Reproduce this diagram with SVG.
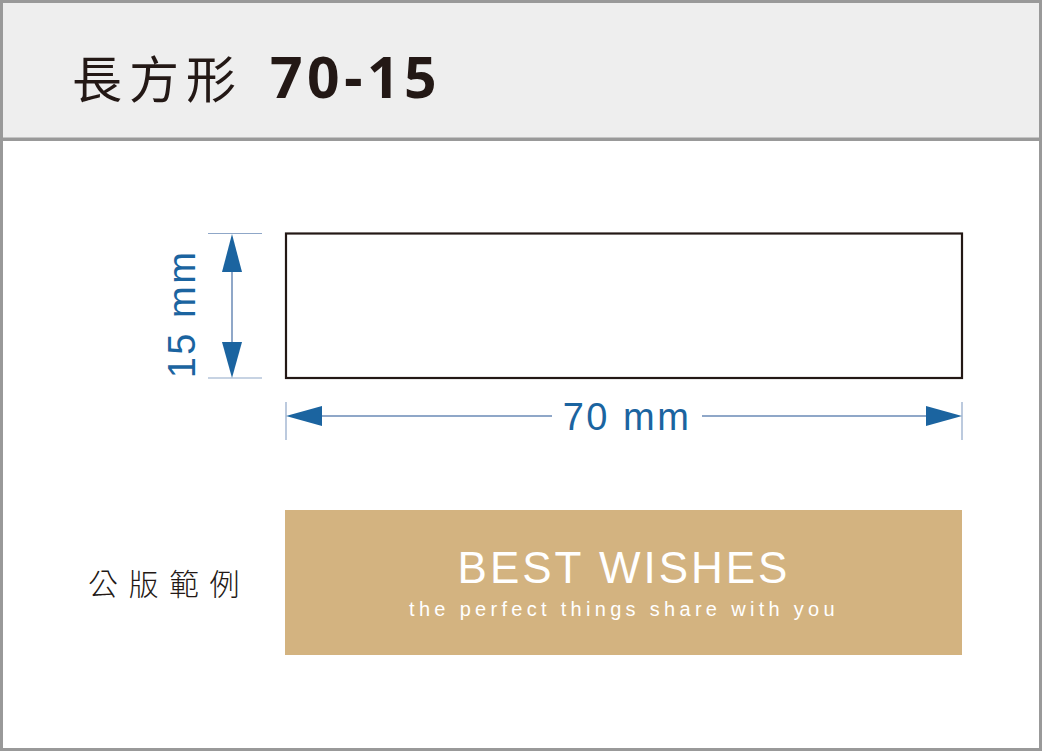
<svg xmlns="http://www.w3.org/2000/svg" width="1042" height="751" viewBox="0 0 1042 751">
<style>
.dim{fill:#1b64a0;font-family:"Liberation Sans",Arial,sans-serif;font-size:38px;letter-spacing:2.5px}
.ext{stroke:#8fa7c8;stroke-width:1.2}
.dl{stroke:#8fa7c8;stroke-width:2}
.ah{fill:#1b64a0}
</style>
<rect x="0" y="0" width="1042" height="751" fill="#ffffff"/>
<g id="header">
<rect x="1.5" y="1.5" width="1039" height="138" fill="#eeeeee" stroke="#999999" stroke-width="3"/>
<text x="72" y="98" font-family="Noto Sans CJK TC,Noto Sans CJK SC,sans-serif" font-size="50" fill="#231815" letter-spacing="7">長方形</text>
<text x="270" y="98" font-weight="bold" font-family="Noto Sans,Noto Sans CJK TC,sans-serif" font-size="57" fill="#231815" letter-spacing="4.5">70-15</text>
</g>
<rect x="1.5" y="139" width="1039" height="610.5" fill="none" stroke="#999999" stroke-width="3"/>
<g id="shape">
<rect x="286" y="233.5" width="676" height="144.5" fill="#ffffff" stroke="#231815" stroke-width="2.2"/>
</g>
<g id="connectors">
<line class="ext" x1="208" y1="233.5" x2="262" y2="233.5"/>
<line class="ext" x1="208" y1="378" x2="262" y2="378"/>
<line class="dl" x1="232" y1="270" x2="232" y2="345"/>
<polygon class="ah" points="232,234 222,272 242,272"/>
<polygon class="ah" points="232,378 222,342 242,342"/>
<line class="ext" x1="286" y1="402" x2="286" y2="440"/>
<line class="ext" x1="962" y1="402" x2="962" y2="440"/>
<line class="dl" x1="320" y1="416" x2="552" y2="416"/>
<line class="dl" x1="702" y1="416" x2="928" y2="416"/>
<polygon class="ah" points="286,416 322,406 322,426"/>
<polygon class="ah" points="962,416 926,406 926,426"/>
</g>
<g id="labels">
<text class="dim" x="627" y="430" text-anchor="middle">70 mm</text>
<text class="dim" transform="translate(195,314) rotate(-90)" text-anchor="middle">15 mm</text>
</g>
<g id="sample-label">
<text x="88" y="595" font-family="Noto Sans CJK TC,Noto Sans CJK SC,sans-serif" font-size="30" font-weight="300" fill="#231815" letter-spacing="10.5">公版範例</text>
</g>
<g id="sample">
<rect x="285" y="510" width="677" height="145" fill="#d3b380"/>
<text x="624" y="583" text-anchor="middle" font-family="Liberation Sans,Arial,sans-serif" font-size="44" fill="#ffffff" letter-spacing="3">BEST WISHES</text>
<text x="624" y="616" text-anchor="middle" font-family="Liberation Sans,Arial,sans-serif" font-size="20" fill="#ffffff" letter-spacing="4.3">the perfect things share with you</text>
</g>
</svg>
